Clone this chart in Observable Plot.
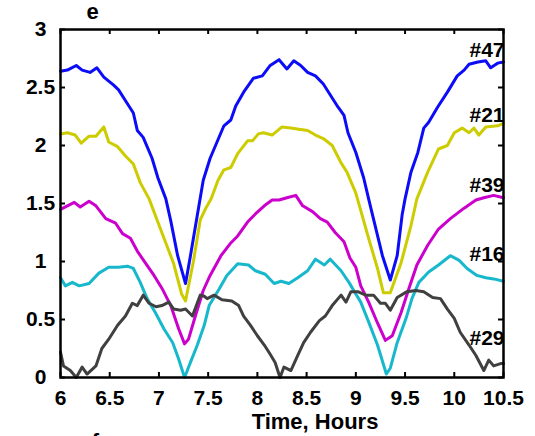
<!DOCTYPE html>
<html>
<head>
<meta charset="utf-8">
<script src="https://cdn.jsdelivr.net/npm/d3@7"></script>
<script src="https://cdn.jsdelivr.net/npm/@observablehq/plot@0.6"></script>
<style>
  html, body { margin: 0; padding: 0; background: #fff; overflow: hidden; }
</style>
</head>
<body>
<div id="chart"></div>
<script>
// ---- data ----
const xTicks = [6, 6.5, 7, 7.5, 8, 8.5, 9, 9.5, 10, 10.5];
const yTicks = [0, 0.5, 1, 1.5, 2, 2.5, 3];

const s47 = [[6.00,2.64],[6.07,2.65],[6.16,2.69],[6.22,2.65],[6.30,2.63],[6.37,2.67],[6.44,2.59],[6.54,2.52],[6.59,2.48],[6.68,2.36],[6.74,2.28],[6.78,2.13],[6.84,2.07],[6.93,1.89],[6.99,1.72],[7.07,1.54],[7.12,1.35],[7.19,1.05],[7.27,0.81],[7.32,1.05],[7.39,1.40],[7.45,1.70],[7.52,1.89],[7.66,2.17],[7.73,2.22],[7.78,2.34],[7.86,2.46],[7.96,2.58],[8.05,2.60],[8.13,2.69],[8.22,2.74],[8.30,2.66],[8.37,2.73],[8.44,2.69],[8.51,2.63],[8.59,2.60],[8.67,2.53],[8.76,2.41],[8.82,2.33],[8.88,2.26],[8.92,2.11],[9.00,1.94],[9.08,1.72],[9.13,1.54],[9.17,1.40],[9.27,1.05],[9.35,0.84],[9.42,1.05],[9.47,1.40],[9.50,1.54],[9.56,1.77],[9.63,1.94],[9.69,2.15],[9.74,2.20],[9.83,2.33],[9.93,2.46],[10.03,2.60],[10.10,2.65],[10.15,2.70],[10.24,2.72],[10.32,2.73],[10.37,2.67],[10.44,2.71],[10.50,2.72]];

const s21 = [[6.00,2.10],[6.07,2.11],[6.15,2.09],[6.21,2.02],[6.29,2.08],[6.36,2.08],[6.44,2.16],[6.49,2.03],[6.58,1.99],[6.66,1.91],[6.74,1.84],[6.81,1.68],[6.90,1.54],[6.98,1.36],[7.07,1.16],[7.15,0.98],[7.23,0.72],[7.27,0.66],[7.35,1.00],[7.42,1.36],[7.47,1.45],[7.53,1.54],[7.60,1.70],[7.66,1.79],[7.73,1.81],[7.80,1.93],[7.90,2.04],[7.95,2.04],[8.01,2.10],[8.06,2.11],[8.15,2.09],[8.25,2.16],[8.34,2.15],[8.42,2.14],[8.51,2.13],[8.59,2.09],[8.67,2.06],[8.76,2.00],[8.85,1.85],[8.91,1.77],[9.00,1.59],[9.13,1.20],[9.22,0.94],[9.28,0.73],[9.35,0.73],[9.46,0.99],[9.56,1.31],[9.62,1.54],[9.73,1.77],[9.84,1.97],[9.93,2.00],[10.00,2.11],[10.08,2.15],[10.15,2.11],[10.20,2.15],[10.25,2.09],[10.32,2.16],[10.44,2.17],[10.50,2.19]];

const s39 = [[6.00,1.45],[6.07,1.48],[6.14,1.51],[6.20,1.47],[6.29,1.52],[6.36,1.48],[6.46,1.37],[6.56,1.33],[6.63,1.24],[6.71,1.20],[6.78,1.09],[6.86,0.99],[6.95,0.88],[7.03,0.77],[7.12,0.62],[7.20,0.42],[7.26,0.29],[7.30,0.33],[7.37,0.53],[7.45,0.75],[7.52,0.88],[7.63,1.05],[7.73,1.16],[7.80,1.22],[7.90,1.34],[7.98,1.41],[8.07,1.48],[8.15,1.53],[8.22,1.53],[8.30,1.55],[8.39,1.57],[8.46,1.48],[8.56,1.43],[8.64,1.37],[8.71,1.34],[8.79,1.25],[8.88,1.17],[8.94,1.03],[9.00,0.95],[9.05,0.79],[9.13,0.65],[9.22,0.47],[9.30,0.32],[9.37,0.36],[9.46,0.56],[9.54,0.77],[9.62,0.97],[9.73,1.14],[9.84,1.28],[9.96,1.37],[10.10,1.46],[10.22,1.53],[10.30,1.55],[10.40,1.57],[10.50,1.55]];

const s16 = [[6.00,0.86],[6.05,0.79],[6.12,0.82],[6.19,0.79],[6.29,0.81],[6.39,0.90],[6.49,0.95],[6.59,0.95],[6.68,0.96],[6.74,0.94],[6.81,0.82],[6.88,0.68],[6.97,0.55],[7.05,0.42],[7.14,0.30],[7.20,0.16],[7.26,0.00],[7.32,0.13],[7.39,0.28],[7.46,0.45],[7.51,0.62],[7.61,0.76],[7.69,0.88],[7.80,0.98],[7.91,0.97],[7.98,0.92],[8.08,0.89],[8.17,0.81],[8.24,0.83],[8.32,0.81],[8.41,0.86],[8.51,0.92],[8.59,1.02],[8.68,0.97],[8.74,1.02],[8.85,0.92],[8.93,0.82],[9.00,0.72],[9.05,0.65],[9.13,0.48],[9.22,0.28],[9.31,0.03],[9.35,0.08],[9.42,0.30],[9.51,0.51],[9.57,0.68],[9.64,0.82],[9.74,0.91],[9.84,0.97],[9.96,1.05],[10.05,1.01],[10.13,0.94],[10.23,0.88],[10.32,0.86],[10.40,0.85],[10.50,0.83]];

const s29 = [[6.00,0.22],[6.03,0.10],[6.10,0.06],[6.16,0.00],[6.22,0.09],[6.27,0.03],[6.36,0.10],[6.42,0.25],[6.49,0.33],[6.58,0.45],[6.66,0.53],[6.73,0.64],[6.78,0.62],[6.84,0.71],[6.90,0.64],[6.97,0.61],[7.03,0.62],[7.10,0.65],[7.15,0.59],[7.22,0.58],[7.27,0.59],[7.34,0.53],[7.42,0.71],[7.46,0.70],[7.49,0.68],[7.56,0.71],[7.64,0.67],[7.74,0.66],[7.81,0.62],[7.86,0.53],[7.93,0.45],[8.00,0.36],[8.07,0.28],[8.13,0.20],[8.18,0.13],[8.23,0.00],[8.27,0.09],[8.34,0.06],[8.41,0.19],[8.47,0.30],[8.54,0.39],[8.63,0.49],[8.69,0.53],[8.76,0.62],[8.85,0.71],[8.90,0.65],[8.95,0.74],[9.02,0.74],[9.10,0.71],[9.18,0.71],[9.25,0.64],[9.30,0.64],[9.35,0.58],[9.42,0.69],[9.52,0.74],[9.61,0.75],[9.69,0.74],[9.78,0.69],[9.86,0.68],[9.93,0.59],[10.00,0.51],[10.06,0.39],[10.15,0.28],[10.22,0.19],[10.30,0.06],[10.35,0.15],[10.40,0.10],[10.47,0.12],[10.50,0.12]];

const seriesNames  = ["#47", "#21", "#39", "#16", "#29"];
const seriesColors = ["#0c0cf8", "#cccc00", "#cc00cc", "#18b8cc", "#404040"];
const seriesData   = [s47, s21, s39, s16, s29];
const labelY       = [2.82, 2.26, 1.66, 1.06, 0.34];
const labelX       = 10.5;

// ---- build ----
const rows = [];
seriesData.forEach((s, i) => s.forEach(([t, v]) => rows.push({t, v, name: seriesNames[i]})));
const labels = seriesNames.map((n, i) => ({name: n, y: labelY[i]}));

const font = "'Liberation Sans', Arial, Helvetica, sans-serif";

const chart = Plot.plot({
  width: 535,
  height: 436,
  marginLeft: 60,
  marginRight: 32,
  marginTop: 29,
  marginBottom: 59,
  style: {fontFamily: font, fontWeight: "bold", fontSize: "21px", color: "black", background: "white", overflow: "visible"},
  x: {domain: [6, 10.5]},
  y: {domain: [0, 3]},
  color: {domain: seriesNames, range: seriesColors},
  marks: [
    Plot.line(rows, {x: "t", y: "v", z: "name", stroke: "name", strokeWidth: 3, strokeLinejoin: "round"}),
    // inward ticks on all four sides
    Plot.tickX(xTicks, {x: d => d, insetTop: 343, stroke: "black", strokeWidth: 2}),
    Plot.tickX(xTicks, {x: d => d, insetBottom: 343, stroke: "black", strokeWidth: 2}),
    Plot.tickY(yTicks, {y: d => d, insetRight: 438, stroke: "black", strokeWidth: 2}),
    Plot.tickY(yTicks, {y: d => d, insetLeft: 438, stroke: "black", strokeWidth: 2}),
    Plot.frame({stroke: "black", strokeWidth: 2.5}),
    Plot.axisX({ticks: xTicks, tickSize: 0, tickPadding: 13, tickFormat: d => String(d), label: null, fontSize: 21}),
    Plot.axisY({ticks: yTicks, tickSize: 0, tickPadding: 20, textAnchor: "middle", tickFormat: d => String(d), label: null, fontSize: 21}),
    Plot.text(labels, {x: labelX, y: "y", text: "name", textAnchor: "end", dx: 1, fontSize: 21, fontWeight: "bold", fill: "black"}),
    Plot.text(["Time, Hours"], {frameAnchor: "bottom", lineAnchor: "middle", textAnchor: "middle", dx: 33, dy: 44, fontSize: 22, fontWeight: "bold", fill: "black"}),
    Plot.text(["e"], {frameAnchor: "top-left", lineAnchor: "middle", textAnchor: "middle", dx: 32, dy: -18, fontSize: 22, fontWeight: "bold", fill: "black"}),
    Plot.text(["f"], {frameAnchor: "bottom-left", lineAnchor: "middle", textAnchor: "middle", dx: 35, dy: 64, fontSize: 22, fontWeight: "bold", fill: "black"})
  ]
});
document.getElementById("chart").appendChild(chart);
</script>
</body>
</html>
